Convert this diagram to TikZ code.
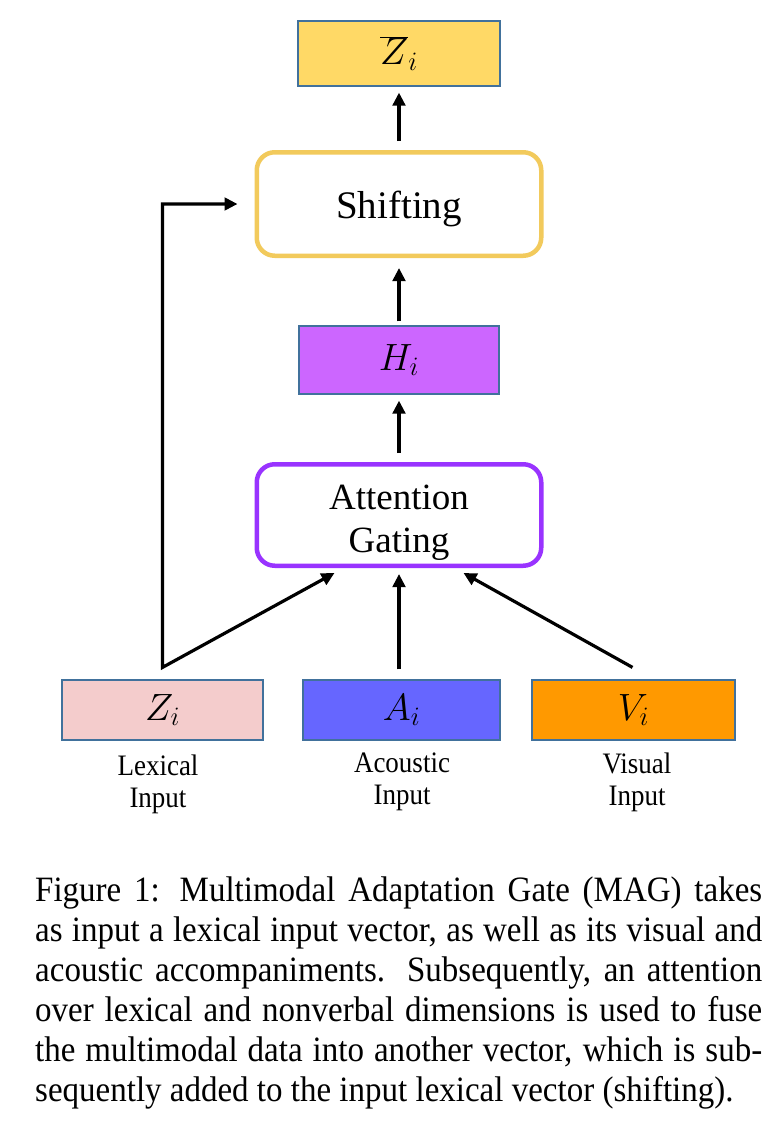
\RequirePackage{fix-cm}
\documentclass[tikz,border=0pt]{standalone}
\usepackage{fontspec}
\setmainfont{Liberation Serif}
\usetikzlibrary{arrows.meta,calc}
\definecolor{boxblue}{RGB}{65,113,156}
\definecolor{gold}{RGB}{255,217,102}
\definecolor{shiftc}{RGB}{242,202,92}
\definecolor{hpurple}{RGB}{204,102,255}
\definecolor{attc}{RGB}{153,51,255}
\definecolor{zpink}{RGB}{244,204,204}
\definecolor{ablue}{RGB}{102,102,255}
\definecolor{vorange}{RGB}{255,153,0}
\begin{document}
\begin{tikzpicture}[x=1pt,y=-1pt,
  flatbox/.style={draw=boxblue,line width=1.2pt,inner sep=0pt,
    font=\fontsize{38}{40}\selectfont},
  roundbox/.style={line width=4.5pt,rounded corners=18pt,fill=white,inner sep=0pt,
    align=center},
  arr/.style={line width=3.2pt,-{Triangle[length=13pt,width=12.5pt]}},
  lab/.style={align=center,inner sep=0pt,font=\fontsize{27}{32}\selectfont},
  capline/.style={anchor=base west,inner sep=0pt,font=\fontsize{33}{40}\selectfont}]
\useasboundingbox[fill=white] (0,0) rectangle (772,1121);

% boxes
\node[flatbox,fill=gold,minimum width=202pt,minimum height=65pt] (zbar) at (399,53.5) {$\overline{Z}_i$};
\node[roundbox,draw=shiftc,minimum width=284.5pt,minimum height=103.5pt,
  font=\fontsize{39}{43}\selectfont] (shift) at (399,204)
  {\raisebox{-5pt}[\height][\depth]{Shifting}};
\node[flatbox,fill=hpurple,minimum width=200pt,minimum height=68pt] (h) at (399,360) {$H_i$};
\node[roundbox,draw=attc,minimum width=284.5pt,minimum height=101.5pt,
  font=\fontsize{37}{43}\selectfont] (att) at (399,515)
  {\raisebox{-7pt}[\height][\depth]{\begin{tabular}{@{}c@{}}Attention\\Gating\end{tabular}}};
\node[flatbox,fill=zpink,minimum width=201pt,minimum height=60pt] (z) at (162.5,710) {$Z_i$};
\node[flatbox,fill=ablue,minimum width=197pt,minimum height=60pt] (a) at (401.5,710) {$A_i$};
\node[flatbox,fill=vorange,minimum width=203pt,minimum height=60pt] (v) at (633.5,710) {$V_i$};

% labels
\node[lab] (zl) at (158,784) {\scalebox{1}[1.1]{Lexical}\\\scalebox{1}[1.1]{Input}};
\node[lab] (al) at (402,782) {\scalebox{1}[1.1]{Acoustic}\\\scalebox{1}[1.1]{Input}};
\node[lab] (vl) at (637,782) {\scalebox{1}[1.1]{Visual}\\\scalebox{1}[1.1]{Input}};

% connectors
\coordinate (zt) at ($(z.north)+(0,-12)$);
\coordinate (vt) at ($(v.north)+(-1,-12)$);
\coordinate (at) at ($(att.south |- a.north)+(0,-10)$);
\draw[arr] ($(shift.north)+(0,-9)$) -- ($(zbar.south)+(0,6)$);
\draw[arr] ($(h.north)+(0,-4)$) -- ($(shift.south)+(0,10)$);
\draw[arr] ($(att.north)+(0,-9)$) -- ($(h.south)+(0,6)$);
\draw[line width=3.2pt,line join=miter,
  {Triangle[length=13pt,width=12.5pt]}-{Triangle[length=13pt,width=12.5pt]}]
  ($(att.south west)+(80,5)$) -- (zt) |- ($(shift.west)+(-17,0)$);
\draw[arr] (at) -- ($(att.south)+(0,6)$);
\draw[arr] (vt) -- ($(att.south east)+(-80,5)$);

% caption
\node[capline] (c1) at (35,901) {\scalebox{1}[1.08]{\makebox[727pt][s]{Figure 1: Multimodal Adaptation Gate (MAG) takes}}};
\node[capline] (c2) at (35,941) {\scalebox{1}[1.08]{\makebox[727pt][s]{as input a lexical input vector, as well as its visual and}}};
\node[capline] (c3) at (35,981) {\scalebox{1}[1.08]{\makebox[727pt][s]{acoustic accompaniments. Subsequently, an attention}}};
\node[capline] (c4) at (35,1021) {\scalebox{1}[1.08]{\makebox[727pt][s]{over lexical and nonverbal dimensions is used to fuse}}};
\node[capline] (c5) at (35,1061) {\scalebox{1}[1.08]{\makebox[727pt][s]{the multimodal data into another vector, which is sub-}}};
\node[capline] (c6) at (35,1101) {\scalebox{1}[1.08]{sequently added to the input lexical vector (shifting).}};
\end{tikzpicture}
\end{document}
